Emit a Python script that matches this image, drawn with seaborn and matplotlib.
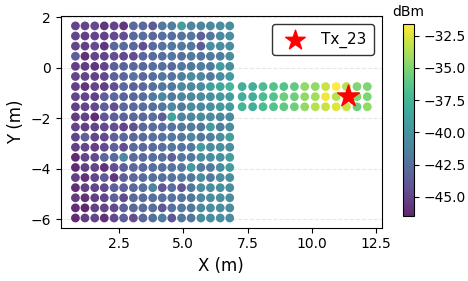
import numpy as np
import pandas as pd
import matplotlib
matplotlib.use("Agg")
import matplotlib.pyplot as plt
import seaborn as sns

# grid coordinates (m)
x_room = [0.82, 1.19, 1.57, 1.94, 2.32, 2.69, 3.07, 3.44, 3.82, 4.19, 4.56, 4.94, 5.31, 5.69, 6.06, 6.44, 6.81]
y_room = [1.65, 1.25, 0.85, 0.45, 0.05, -0.35, -0.75, -1.15, -1.55, -1.95,
          -2.35, -2.75, -3.15, -3.55, -3.95, -4.35, -4.75, -5.15, -5.55, -5.95]
x_hall = [7.29, 7.70, 8.10, 8.51, 8.91, 9.32, 9.72, 10.13, 10.53, 10.94, 11.34, 11.75, 12.15]
y_hall = [-0.75, -1.15, -1.55]

# received power (dBm), rows follow y_room
rssi_room = [
    [-45.0, -45.0, -44.8, -45.8, -45.0, -45.8, -42.8, -42.8, -43.8, -41.8, -41.5, -39.2, -41.0, -41.2, -41.0, -40.5, -40.5],
    [-45.0, -45.3, -45.0, -45.2, -44.8, -44.5, -42.8, -42.5, -43.0, -42.5, -42.5, -42.3, -42.0, -43.5, -42.0, -40.8, -40.3],
    [-45.0, -45.2, -44.8, -45.8, -43.0, -42.8, -43.0, -44.5, -42.8, -42.3, -42.0, -41.8, -42.0, -43.8, -40.3, -40.5, -40.5],
    [-43.5, -46.0, -45.0, -45.0, -44.5, -44.8, -44.5, -43.0, -42.8, -42.5, -42.0, -42.5, -41.8, -42.3, -41.8, -41.5, -40.5],
    [-45.3, -45.5, -45.8, -45.0, -43.5, -43.2, -43.0, -43.0, -42.5, -42.5, -42.8, -42.0, -42.0, -41.5, -41.8, -39.3, -40.5],
    [-45.0, -45.0, -45.2, -44.8, -43.5, -43.0, -42.3, -43.0, -42.5, -42.0, -42.3, -41.5, -40.5, -40.8, -41.8, -40.5, -39.5],
    [-45.2, -45.8, -45.0, -45.3, -44.5, -43.0, -43.5, -43.0, -42.5, -42.0, -42.0, -40.8, -40.8, -40.5, -39.0, -38.5, -37.5],
    [-45.0, -45.0, -45.2, -43.5, -43.0, -43.2, -43.0, -42.5, -41.8, -40.8, -42.0, -41.0, -40.8, -40.5, -40.3, -39.5, -39.3],
    [-45.3, -45.0, -44.8, -43.5, -44.5, -43.0, -42.8, -42.5, -42.5, -42.0, -40.8, -41.8, -40.5, -40.8, -40.3, -39.5, -39.5],
    [-45.5, -45.2, -46.2, -44.0, -43.5, -43.2, -43.0, -43.0, -42.5, -43.5, -38.8, -41.0, -40.8, -40.5, -40.5, -40.8, -40.5],
    [-45.0, -45.3, -45.0, -44.8, -44.5, -45.0, -44.3, -43.0, -42.8, -42.5, -42.3, -42.0, -41.8, -42.0, -39.3, -41.5, -40.5],
    [-45.0, -43.5, -45.0, -44.8, -43.5, -43.0, -43.0, -42.8, -42.5, -42.3, -42.0, -42.0, -40.8, -42.0, -41.5, -40.5, -39.2],
    [-45.2, -45.0, -45.3, -44.8, -43.5, -44.5, -43.0, -43.0, -42.8, -42.5, -42.0, -42.3, -41.8, -39.3, -40.5, -40.3, -40.5],
    [-46.3, -45.0, -44.8, -43.0, -42.8, -40.8, -42.8, -43.0, -42.5, -42.5, -43.5, -42.0, -41.8, -40.5, -40.5, -40.3, -39.3],
    [-46.3, -45.3, -45.0, -46.0, -44.5, -43.5, -43.0, -43.0, -42.5, -42.5, -42.3, -42.0, -39.5, -41.8, -41.8, -40.5, -39.3],
    [-45.3, -46.0, -45.0, -43.8, -45.8, -43.5, -43.0, -42.8, -42.5, -42.5, -42.3, -42.0, -42.0, -40.5, -41.8, -40.5, -40.5],
    [-46.2, -45.3, -45.0, -44.8, -43.5, -43.5, -43.0, -42.5, -41.2, -44.0, -42.5, -44.0, -42.0, -40.5, -40.5, -40.3, -40.5],
    [-45.5, -46.0, -45.3, -45.0, -43.5, -44.8, -43.0, -42.8, -42.5, -42.5, -42.3, -42.3, -42.0, -40.8, -40.5, -40.5, -40.5],
    [-46.2, -46.5, -45.2, -45.0, -44.8, -43.5, -43.0, -42.8, -42.5, -44.0, -42.3, -42.0, -42.0, -40.8, -40.5, -40.5, -40.5],
    [-46.2, -45.3, -45.0, -46.0, -44.8, -43.5, -44.5, -43.0, -42.5, -41.5, -44.0, -42.0, -42.0, -40.5, -40.5, -40.3, -40.5],
]
rssi_hall = [
    [-38.0, -38.0, -37.0, -36.5, -36.5, -36.0, -34.5, -34.5, -33.0, -31.6, -33.5, -35.0, -35.0],
    [-38.0, -38.0, -37.0, -36.5, -35.5, -35.5, -34.5, -34.0, -32.0, -33.5, -33.0, -35.0, -35.0],
    [-37.5, -38.0, -37.0, -36.5, -36.0, -35.5, -34.5, -33.5, -33.0, -32.5, -33.0, -35.5, -34.5],
]
tx_name = "Tx_23"
tx_x, tx_y = 11.39, -1.12

rows = []
for i, y in enumerate(y_room):
    for j, x in enumerate(x_room):
        rows.append((x, y, rssi_room[i][j]))
for i, y in enumerate(y_hall):
    for j, x in enumerate(x_hall):
        rows.append((x, y, rssi_hall[i][j]))
df = pd.DataFrame(rows, columns=["x", "y", "rssi"])

vmin, vmax = df["rssi"].min(), df["rssi"].max()
norm = plt.Normalize(vmin, vmax)

fig = plt.figure(figsize=(4.68, 2.81), dpi=100)
ax = fig.add_axes([0.130, 0.190, 0.686, 0.752])
cax = fig.add_axes([0.861, 0.231, 0.024, 0.683])

sns.scatterplot(data=df, x="x", y="y", hue="rssi", palette="viridis", hue_norm=norm,
                s=40, alpha=0.85, linewidth=0, legend=False, ax=ax)
ax.scatter([tx_x], [tx_y], marker="*", s=270, color="red", zorder=5, label=tx_name)

ax.grid(axis="y", linestyle="--", alpha=0.3)
ax.set_axisbelow(True)
ax.set_xlabel("X (m)", fontsize=12)
ax.set_ylabel("Y (m)", fontsize=12)
ax.tick_params(labelsize=10)
ax.set_xticks([2.5, 5.0, 7.5, 10.0, 12.5])
ax.set_yticks([-6, -4, -2, 0, 2])
ax.legend(loc="upper right", fontsize=11, markerscale=0.9, edgecolor="black",
          handletextpad=0.7, borderpad=0.5)

sm = plt.cm.ScalarMappable(cmap="viridis", norm=norm)
sm.set_array([])
cb = fig.colorbar(sm, cax=cax)
cb.solids.set_alpha(0.85)
cb.ax.tick_params(labelsize=10)
cb.ax.set_title("dBm", fontsize=10)

fig.savefig("out.png", dpi=100)
